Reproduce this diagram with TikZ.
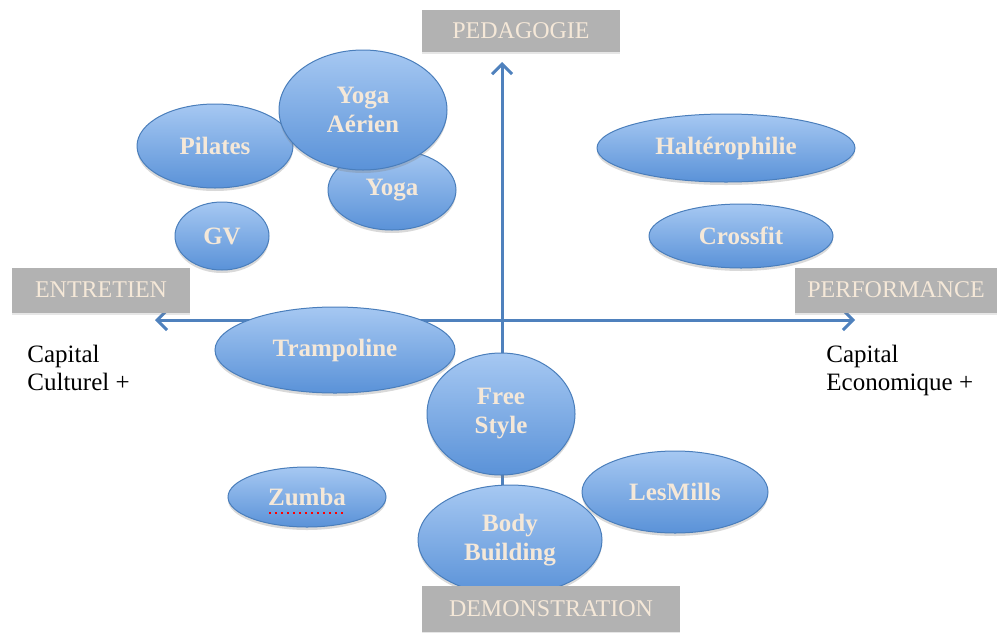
\documentclass[tikz,border=0pt]{standalone}
\usepackage{fontspec}
\setmainfont{Liberation Serif}
\usetikzlibrary{shapes.geometric,shadows,arrows.meta}
\definecolor{axisblue}{HTML}{4F81BD}
\definecolor{bubtop}{HTML}{A6C8F2}
\definecolor{bubbot}{HTML}{5A92D8}
\definecolor{bubline}{HTML}{4A7EBB}
\definecolor{boxgray}{HTML}{B2B2B2}
\definecolor{cream}{HTML}{F5E8D8}
\begin{document}
\begin{tikzpicture}[x=0.5pt, y=-0.5pt,
  bubble/.style = {shape=ellipse, draw=bubline, line width=0.5pt,
    top color=bubtop, bottom color=bubbot, inner sep=0pt, align=center,
    text=cream, font=\fontsize{12.5}{14.5}\selectfont\bfseries,
    drop shadow={shadow xshift=0pt, shadow yshift=-1.5pt, opacity=.3}},
  pole/.style = {shape=rectangle, fill=boxgray, text=cream, inner sep=0pt,
    font=\fontsize{12}{13}\selectfont,
    drop shadow={shadow xshift=0pt, shadow yshift=-1pt, opacity=.2}},
  capital/.style = {align=left, anchor=north west, inner sep=0pt,
    font=\fontsize{12.5}{14}\selectfont},
  axis/.style = {draw=axisblue, line width=1.5pt}]
  \useasboundingbox (0,0) rectangle (1000,632);

  \coordinate (n) at (502,62);
  \coordinate (s) at (502,488);
  \coordinate (w) at (155,320);
  \coordinate (e) at (855,320);
  \draw[axis, {Straight Barb[length=5pt,width=10pt]}-{Straight Barb[length=5pt,width=10pt]}] (w) -- (e);
  \draw[axis, -{Straight Barb[length=5pt,width=10pt]}] (s) -- (n);

  \node[bubble, minimum width=78pt, minimum height=42pt] (pilates) at (215,146) {Pilates};
  \node[bubble, minimum width=64pt, minimum height=40pt] (yoga) at (392,190) {Yoga};
  \node[bubble, minimum width=84pt, minimum height=60pt] (yogaaer) at (363,110) {Yoga\\Aérien};
  \node[bubble, minimum width=47pt, minimum height=34pt] (gv) at (222,236) {GV};
  \node[bubble, minimum width=129pt, minimum height=34pt] (halt) at (726,148) {Haltérophilie};
  \node[bubble, minimum width=92pt, minimum height=32pt] (crossfit) at (741,236) {Crossfit};
  \node[bubble, minimum width=120pt, minimum height=43pt] (tramp) at (335,350) {Trampoline};
  \node[bubble, minimum width=74pt, minimum height=61pt] (free) at (501,414) {Free\\Style};
  \node[bubble, minimum width=79pt, minimum height=30pt] (zumba) at (307,497) {Zumba};
  \node[bubble, minimum width=93pt, minimum height=41pt] (lesmills) at (675,492) {LesMills};
  \node[bubble, minimum width=92pt, minimum height=55pt] (body) at (510,540) {Body\\Building};
  \draw[red, dotted, line width=1pt] ([xshift=-19pt, yshift=-8pt]zumba.center) -- ([xshift=19pt, yshift=-8pt]zumba.center);

  \node[pole, minimum width=99pt, minimum height=21pt] (pedagogie) at (521,31) {PEDAGOGIE};
  \node[pole, minimum width=89pt, minimum height=22.5pt] (entretien) at (101,290) {ENTRETIEN};
  \node[pole, minimum width=101pt, minimum height=22.5pt] (performance) at (896,290) {PERFORMANCE};
  \node[pole, minimum width=129pt, minimum height=23pt] (demonstration) at (551,609) {DEMONSTRATION};

  \node[capital] (culturel) at (27,345) {Capital\\Culturel +};
  \node[capital] (economique) at (826,345) {Capital\\Economique +};
\end{tikzpicture}
\end{document}
